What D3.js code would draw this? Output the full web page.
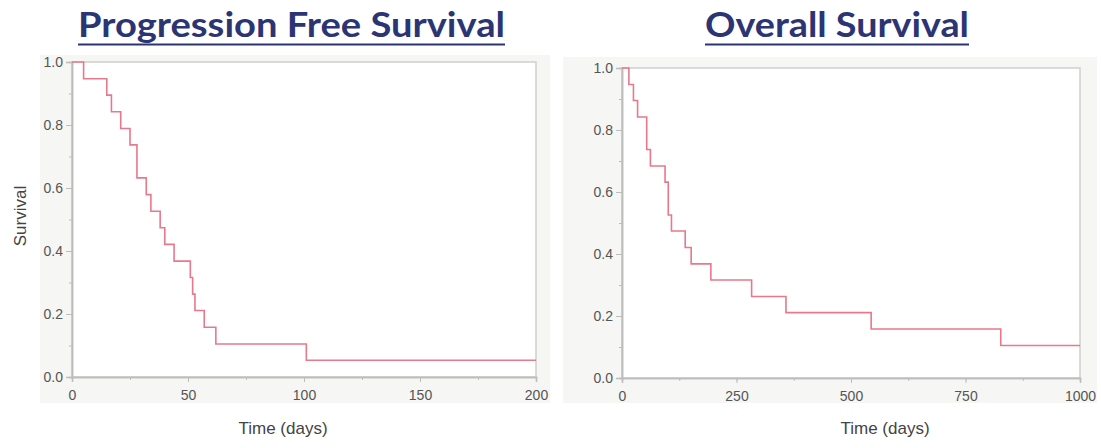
<!DOCTYPE html>
<html>
<head>
<meta charset="utf-8">
<script src="https://cdn.jsdelivr.net/npm/d3@7"></script>
<style>
  body { margin: 0; background: #fff; }
  svg { display: block; }
</style>
</head>
<body>
<svg id="chart" width="1101" height="448"></svg>
<script>
// Kaplan-Meier steps: [time, survival after the step]
var pfsTimes = [0, 5, 15, 17, 21, 25, 28, 32, 34, 38, 40, 44, 51, 52, 53, 57, 62, 101, 200];
var pfsSurv  = [1.0, 0.947, 0.895, 0.842, 0.789, 0.737, 0.632, 0.579, 0.526, 0.474, 0.421, 0.368, 0.316, 0.263, 0.211, 0.158, 0.105, 0.053, 0.053];

var osTimes = [0, 15, 25, 34, 54, 62, 94, 101, 108, 138, 151, 194, 283, 358, 544, 827, 1000];
var osSurv  = [1.0, 0.947, 0.895, 0.842, 0.737, 0.684, 0.632, 0.526, 0.474, 0.421, 0.368, 0.316, 0.263, 0.211, 0.158, 0.105, 0.105];

var pfsXTicks = [0, 50, 100, 150, 200];
var osXTicks = [0, 250, 500, 750, 1000];
var yTicks = [0, 0.2, 0.4, 0.6, 0.8, 1.0];

var svg = d3.select("#chart");
var fontAxis = "'Liberation Sans', Arial, sans-serif";

function panel(opts) {
    // light grey backdrop behind the plot and its tick labels
    svg.append("rect")
        .attr("x", opts.bg[0]).attr("y", opts.bg[1])
        .attr("width", opts.bg[2]).attr("height", opts.bg[3])
        .attr("fill", "#f6f6f4");

    var xScale = d3.scaleLinear().domain([0, opts.xMax]).range([opts.left, opts.right]);
    var yScale = d3.scaleLinear().domain([0, 1]).range([opts.bottom, opts.top]);

    svg.append("rect")
        .attr("x", opts.left).attr("y", opts.top)
        .attr("width", opts.right - opts.left).attr("height", opts.bottom - opts.top)
        .attr("fill", "#fff")
        .attr("stroke", "#cfcfcf")
        .attr("stroke-width", 1.5);

    // minor ticks
    var minorX = d3.range(0, opts.xMax + 1, opts.xMax / 8);
    var minorY = d3.range(0, 1.01, 0.1);
    svg.append("g")
        .attr("transform", "translate(0," + opts.bottom + ")")
        .call(d3.axisBottom(xScale).tickValues(minorX).tickSize(3).tickFormat(""))
        .call(styleAxis);
    svg.append("g")
        .attr("transform", "translate(" + opts.left + ",0)")
        .call(d3.axisLeft(yScale).tickValues(minorY).tickSize(3).tickFormat(""))
        .call(styleAxis);

    // major ticks with labels
    svg.append("g")
        .attr("transform", "translate(0," + opts.bottom + ")")
        .call(d3.axisBottom(xScale).tickValues(opts.xTicks).tickSize(5).tickPadding(8).tickFormat(d3.format("d")))
        .call(styleAxis);
    svg.append("g")
        .attr("transform", "translate(" + opts.left + ",0)")
        .call(d3.axisLeft(yScale).tickValues(yTicks).tickSize(6).tickPadding(3).tickFormat(d3.format(".1f")))
        .call(styleAxis);

    var steps = opts.times.map(function(t, i) { return [t, opts.surv[i]]; });
    var line = d3.line()
        .x(function(d) { return xScale(d[0]); })
        .y(function(d) { return yScale(d[1]); })
        .curve(d3.curveStepAfter);

    svg.append("path")
        .datum(steps)
        .attr("d", line)
        .attr("fill", "none")
        .attr("stroke", "#e8788c")
        .attr("stroke-width", 1.6);

    svg.append("text")
        .attr("x", opts.xLabelX).attr("y", 434)
        .attr("text-anchor", "middle")
        .attr("font-family", fontAxis)
        .attr("font-size", 17)
        .attr("fill", "#444")
        .text("Time (days)");

    svg.append("text")
        .attr("x", opts.titleX).attr("y", 37)
        .attr("text-anchor", "middle")
        .attr("font-family", "Lato, 'Open Sans', sans-serif")
        .attr("font-weight", "bold")
        .attr("font-size", 35)
        .attr("fill", "#2c3573")
        .attr("textLength", opts.titleW)
        .attr("lengthAdjust", "spacingAndGlyphs")
        .text(opts.title);

    svg.append("line")
        .attr("x1", opts.titleX - opts.titleW / 2).attr("x2", opts.titleX + opts.titleW / 2)
        .attr("y1", 44.5).attr("y2", 44.5)
        .attr("stroke", "#2c3573")
        .attr("stroke-width", 2.2);
}

function styleAxis(g) {
    g.select(".domain").attr("stroke", "#bdbdbd").attr("stroke-width", 1.5);
    g.selectAll(".tick line").attr("stroke", "#bdbdbd");
    g.selectAll(".tick text")
        .attr("font-family", fontAxis)
        .attr("font-size", 14)
        .attr("fill", "#555");
}

panel({
    bg: [40, 55, 510, 348],
    left: 72, right: 536, top: 62, bottom: 377,
    xMax: 200, xTicks: pfsXTicks,
    times: pfsTimes, surv: pfsSurv,
    xLabelX: 283,
    title: "Progression Free Survival", titleX: 291.5, titleW: 427
});

panel({
    bg: [563, 57, 534, 346],
    left: 622, right: 1080, top: 68, bottom: 378,
    xMax: 1000, xTicks: osXTicks,
    times: osTimes, surv: osSurv,
    xLabelX: 885,
    title: "Overall Survival", titleX: 837, titleW: 264
});

svg.append("text")
    .attr("transform", "translate(26,216) rotate(-90)")
    .attr("text-anchor", "middle")
    .attr("font-family", fontAxis)
    .attr("font-size", 17)
    .attr("fill", "#444")
    .text("Survival");
</script>
</body>
</html>
